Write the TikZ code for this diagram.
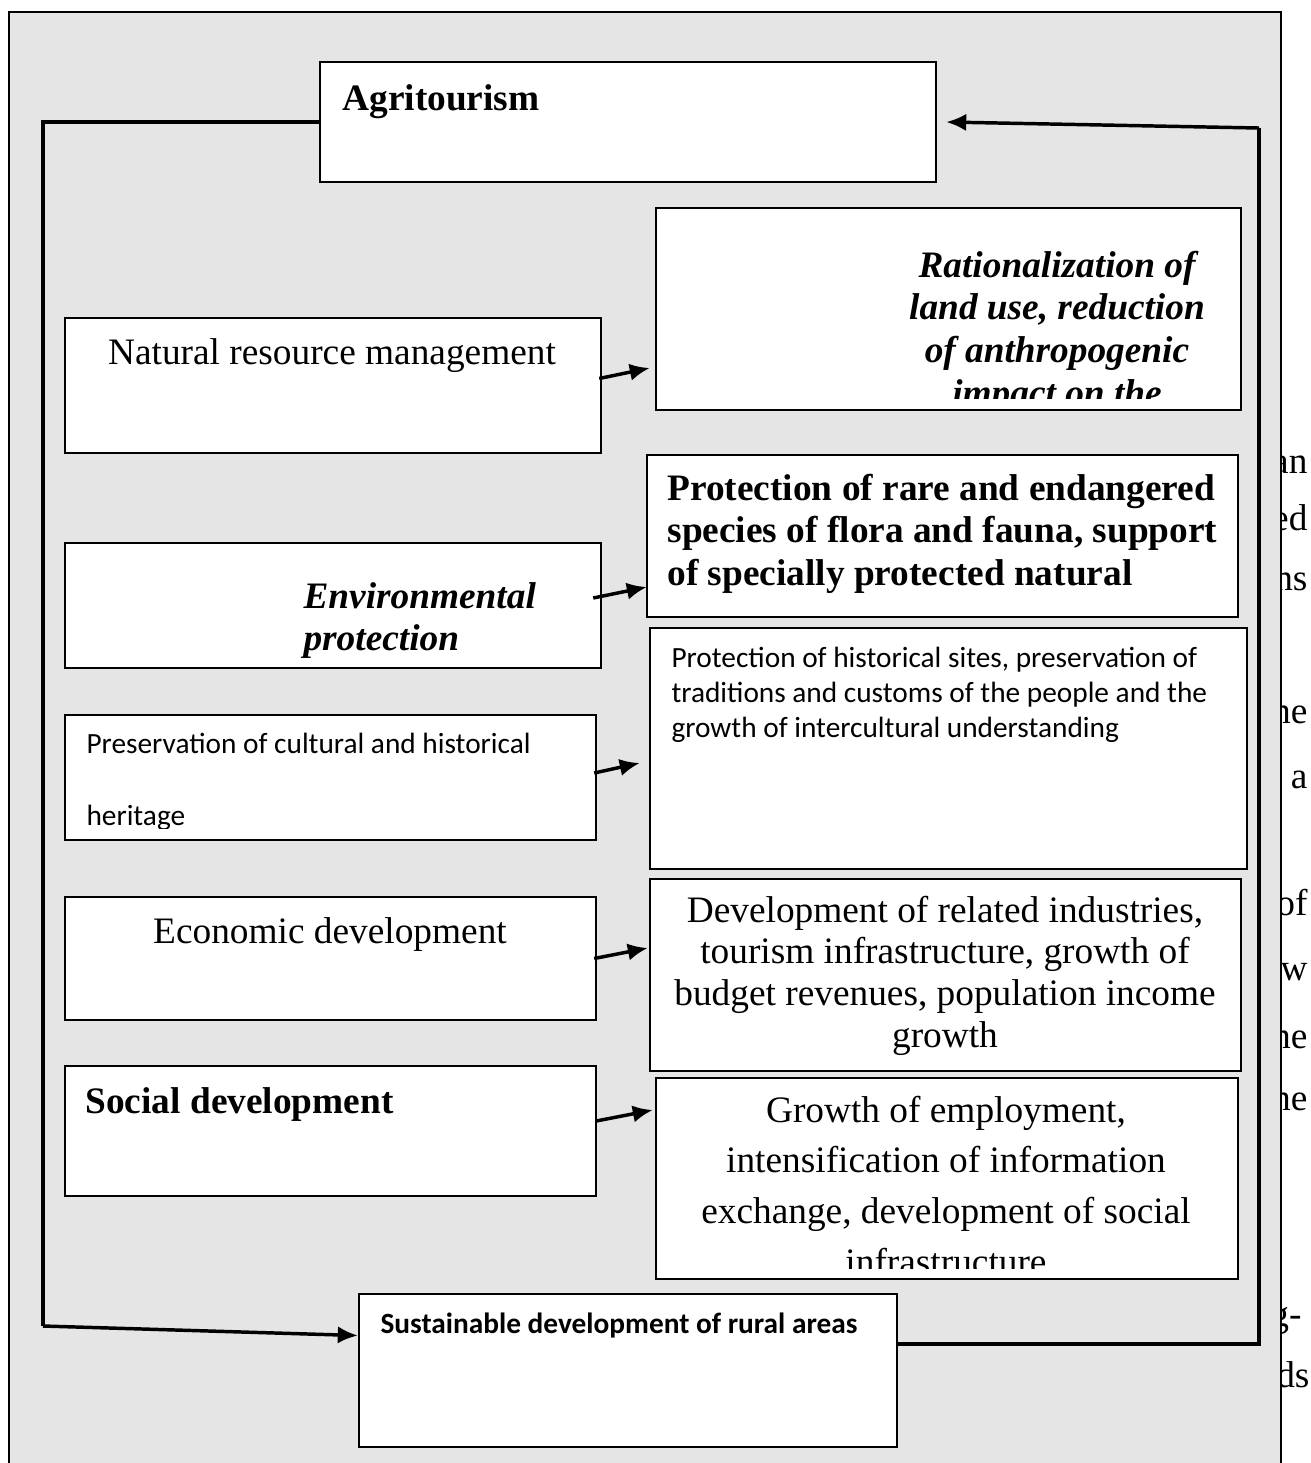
\documentclass[tikz,border=0pt]{standalone}
\usepackage{fontspec}
\setmainfont{Liberation Serif}
\newfontfamily\calibri{Carlito}
\usepackage{tikz}
\usetikzlibrary{arrows.meta, calc, positioning}
\tikzset{
    box/.style={draw, fill=white, line width=0.9pt, inner sep=0pt},
    frame/.style={draw, fill=black!10, line width=0.8pt},
    txt/.style={inner sep=0pt, anchor=base, font=\fontsize{14}{16.1}\selectfont},
    ctxt/.style={inner sep=0pt, anchor=base west, font=\calibri\fontsize{11}{13.3}\selectfont},
    frag/.style={inner sep=0pt, anchor=base east, font=\fontsize{14}{16.1}\selectfont},
    link/.style={line width=1.3pt},
    flow/.style={line width=1.3pt, -{Latex[length=7.5pt,width=6.5pt]}}
}

\begin{document}
\begin{tikzpicture}[x=0.375pt, y=-0.375pt]
    \useasboundingbox (0,0) rectangle (1311,1463);
    % words of the page behind the frame
    \node[frag] at (1308,473) {an};
    \node[frag] at (1308,530) {ed};
    \node[frag] at (1308,590) {ns};
    \node[frag] at (1308,723) {he};
    \node[frag] at (1308,788) {a};
    \node[frag] at (1308,915) {of};
    \node[frag] at (1308,980) {w};
    \node[frag] at (1308,1048) {he};
    \node[frag] at (1308,1110) {he};
    \node[frag] at (1302,1326) {g-};
    \node[frag] at (1310,1387) {ds};
    \draw[frame] (9,12) rectangle (1281,1490);
    % boxes
    \node[box, minimum width=231pt, minimum height=45pt] (agri) at (628,122) {};
    \node[box, minimum width=219.4pt, minimum height=75.75pt] (ration) at (948.5,309) {};
    \node[box, minimum width=201pt, minimum height=50.6pt] (nat) at (333,385.5) {};
    \node[box, minimum width=221.6pt, minimum height=60.75pt] (rare) at (942.5,536) {};
    \node[box, minimum width=201pt, minimum height=46.9pt] (env) at (333,605.5) {};
    \node[box, minimum width=223.9pt, minimum height=90.4pt] (hist) at (948.5,748.5) {};
    \node[box, minimum width=199.1pt, minimum height=46.9pt] (pres) at (330.5,777.5) {};
    \node[box, minimum width=199.1pt, minimum height=46.1pt] (econ) at (330.5,958.5) {};
    \node[box, minimum width=221.6pt, minimum height=72pt] (dev) at (945.5,975) {};
    \node[box, minimum width=199.1pt, minimum height=48.75pt] (soc) at (330.5,1131) {};
    \node[box, minimum width=218.25pt, minimum height=75.4pt] (emp) at (947,1178.5) {};
    \node[box, minimum width=201.75pt, minimum height=57.4pt] (sust) at (628,1370.5) {};
    % texts
    \node[txt, anchor=base west, font=\fontsize{14}{16.1}\selectfont\bfseries] (agriT) at (342,110) {Agritourism};
    \begin{scope}
        \clip (ration.north west) rectangle ($(ration.south east)+(0,-13)$);
        \node[txt, font=\fontsize{14}{16.1}\selectfont\bfseries\itshape] (rationT) at (1057,277)
            {\parbox[t]{200pt}{\centering Rationalization of\\ land use, reduction\\ of anthropogenic\\ impact on the}};
    \end{scope}
    \node[txt] (natT) at (332,364) {Natural resource management};
    \node[txt, anchor=base west, font=\fontsize{14}{16}\selectfont\bfseries] (rareT) at (667,500)
        {\parbox[t]{230pt}{\raggedright Protection of rare and endangered\\ species of flora and fauna, support\\ of specially protected natural}};
    \node[txt, anchor=base west, font=\fontsize{14}{16.1}\selectfont\bfseries\itshape] (envT) at (303,608)
        {\parbox[t]{120pt}{\raggedright Environmental\\ protection}};
    \node[ctxt] (histT) at (671,667)
        {\parbox[t]{215pt}{\raggedright Protection of historical sites, preservation of\\ traditions and customs of the people and the\\ growth of intercultural understanding}};
    \begin{scope}
        \clip (pres.north west) rectangle ($(pres.south east)+(0,-13)$);
        \node[ctxt, font=\calibri\fontsize{11}{27}\selectfont] (presT) at (86,753)
            {\parbox[t]{190pt}{\raggedright Preservation of cultural and historical\\ heritage}};
    \end{scope}
    \node[txt] (econT) at (330,943) {Economic development};
    \node[txt, font=\fontsize{14}{15.7}\selectfont] (devT) at (945,922)
        {\parbox[t]{220pt}{\centering Development of related industries,\\ tourism infrastructure, growth of\\ budget revenues, population income\\ growth}};
    \node[txt, anchor=base west, font=\fontsize{14}{16.1}\selectfont\bfseries] (socT) at (85,1113) {Social development};
    \begin{scope}
        \clip (emp.north west) rectangle ($(emp.south east)+(0,-12)$);
        \node[txt, font=\fontsize{14}{19}\selectfont] (empT) at (946,1122)
            {\parbox[t]{215pt}{\centering Growth of employment,\\ intensification of information\\ exchange, development of social\\ infrastructure}};
    \end{scope}
    \node[ctxt, font=\calibri\fontsize{11}{13.3}\selectfont\bfseries] (sustT) at (380,1333) {Sustainable development of rural areas};
    % loop round the boxes
    \coordinate (lt) at (43,122);
    \coordinate (lb) at (43,1326);
    \coordinate (rb) at (1259,1344);
    \coordinate (rt) at (1259,128);
    \draw[link] (agri.west) -- (lt) -- (lb);
    \draw[flow] (lb) -- ($(sust.west)+(0,-35)$);
    \draw[link] ($(sust.east)+(0,-26.5)$) -- (rb) -- (rt);
    \draw[flow] (rt) -- ($(agri.east)+(9,0)$);
    % short arrows
    \draw[flow] ($(nat.east)+(-3,-7)$) -- ($(ration.west)+(-5,59)$);
    \draw[flow] ($(env.east)+(-9,-7.5)$) -- ($(rare.west)+(1,51)$);
    \draw[flow] ($(pres.east)+(-3,-4.5)$) -- ($(hist.west)+(-9,14.5)$);
    \draw[flow] ($(econ.east)+(-3,0)$) -- ($(dev.west)+(-1,-27)$);
    \draw[flow] ($(soc.east)+(-1,-10)$) -- ($(emp.west)+(-2,-68.5)$);
\end{tikzpicture}
\end{document}
